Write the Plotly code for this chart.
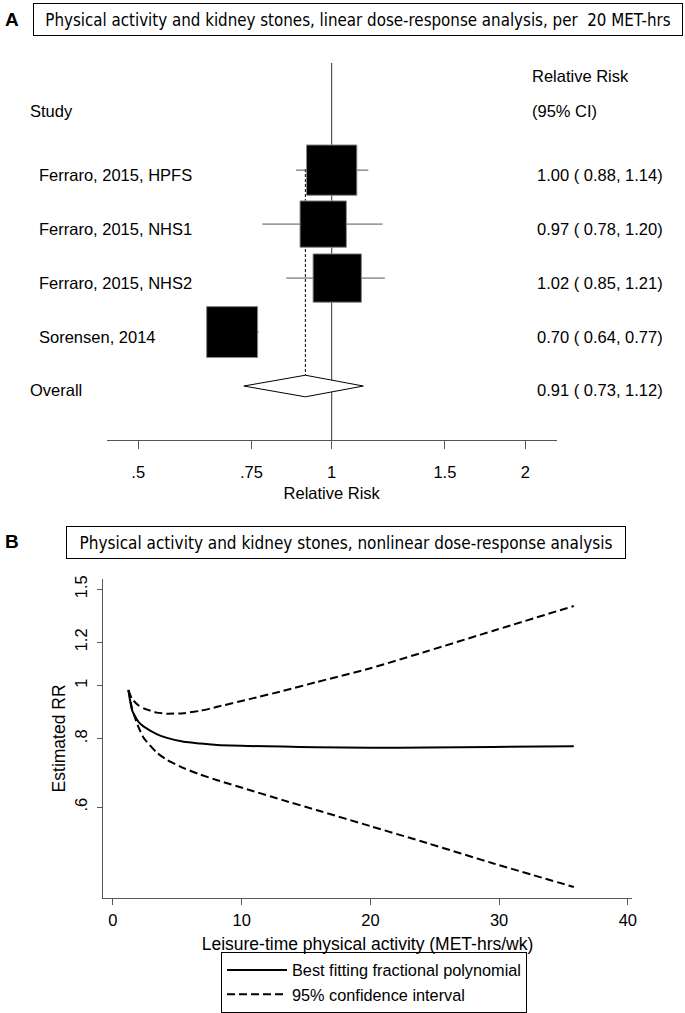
import plotly.graph_objects as go

# ---------------- Panel A data (linear dose-response, per 20 MET-hrs) ----------------
studies = ["Ferraro, 2015, HPFS", "Ferraro, 2015, NHS1", "Ferraro, 2015, NHS2", "Sorensen, 2014"]
rr = [1.00, 0.97, 1.02, 0.70]
rr_lo = [0.88, 0.78, 0.85, 0.64]
rr_hi = [1.14, 1.20, 1.21, 0.77]
weights = [26.3, 22.4, 24.3, 27.0]
overall_label = "Overall"
overall_rr = 0.91
overall_lo = 0.73
overall_hi = 1.12
forest_ticks = [0.5, 0.75, 1, 1.5, 2]
forest_ticktext = [".5", ".75", "1", "1.5", "2"]

# ---------------- Panel B data (nonlinear dose-response) ----------------
met = [1.2, 1.5, 2.0, 2.4, 3.4, 4.2, 5.5, 6.8, 8.1, 10.6, 13.2, 15.8, 20.0, 24.4, 29.5, 35.8]
best_fit = [0.982, 0.900, 0.858, 0.842, 0.816, 0.803, 0.790, 0.784, 0.779, 0.776, 0.774, 0.772, 0.770, 0.771, 0.773, 0.775]
ci_upper = [0.982, 0.945, 0.920, 0.909, 0.893, 0.889, 0.891, 0.900, 0.915, 0.945, 0.978, 1.015, 1.076, 1.156, 1.259, 1.398]
ci_lower = [0.982, 0.905, 0.838, 0.802, 0.755, 0.732, 0.707, 0.688, 0.672, 0.645, 0.618, 0.593, 0.554, 0.516, 0.474, 0.429]
b_xticks = [0, 10, 20, 30, 40]
b_yticks = [0.6, 0.8, 1, 1.2, 1.5]
b_yticktext = [".6", ".8", "1", "1.2", "1.5"]

W, H = 685, 1013
ARIAL = "Liberation Sans, Arial, Helvetica, sans-serif"
TITLEFONT = "DejaVu Sans Condensed, Liberation Sans Narrow, DejaVu Sans, sans-serif"
AXC = "#555555"


def px(x):
    return x / W


def py(y):
    return 1 - y / H


rows = list(range(1, len(studies) + 1))
overall_row = len(studies) + 1

fig = go.Figure()

# vertical line of no effect
fig.add_trace(go.Scatter(x=[1, 1], y=[-0.99, 6.0], mode="lines", line=dict(color="#333333", width=1),
                         showlegend=False, hoverinfo="skip", xaxis="x", yaxis="y"))
# dashed line at overall estimate
fig.add_trace(go.Scatter(x=[overall_rr, overall_rr], y=[0.98, overall_row], mode="lines",
                         line=dict(color="black", width=1, dash="3px,2px"),
                         showlegend=False, hoverinfo="skip", xaxis="x", yaxis="y"))
# confidence intervals
ci_x, ci_y = [], []
for r, lo, hi in zip(rows, rr_lo, rr_hi):
    ci_x += [lo, hi, None]
    ci_y += [r, r, None]
fig.add_trace(go.Scatter(x=ci_x, y=ci_y, mode="lines", line=dict(color="#555555", width=1),
                         showlegend=False, hoverinfo="skip", xaxis="x", yaxis="y"))
# study squares (area proportional to weight)
fig.add_trace(go.Scatter(x=rr, y=rows, mode="markers",
                         marker=dict(symbol="square", color="black", opacity=1,
                                     size=[10 * w ** 0.5 - 1 for w in weights],
                                     line=dict(color="#888888", width=1)),
                         showlegend=False, xaxis="x", yaxis="y"))
# overall diamond
dh = 0.2
fig.add_trace(go.Scatter(x=[overall_lo, overall_rr, overall_hi, overall_rr, overall_lo],
                         y=[overall_row, overall_row - dh, overall_row, overall_row + dh, overall_row],
                         mode="lines", line=dict(color="black", width=1), fill="toself",
                         fillcolor="white", showlegend=False, hoverinfo="skip", xaxis="x", yaxis="y"))

# ---------------- Panel B traces ----------------
fig.add_trace(go.Scatter(x=met, y=best_fit, mode="lines", name="Best fitting fractional polynomial",
                         line=dict(color="black", width=2, shape="spline", smoothing=0.5),
                         xaxis="x2", yaxis="y2"))
fig.add_trace(go.Scatter(x=met, y=ci_upper, mode="lines", name="95% confidence interval",
                         legendgroup="ci",
                         line=dict(color="black", width=2, dash="8px,4px", shape="spline", smoothing=0.5),
                         xaxis="x2", yaxis="y2"))
fig.add_trace(go.Scatter(x=met, y=ci_lower, mode="lines", name="95% confidence interval",
                         legendgroup="ci", showlegend=False,
                         line=dict(color="black", width=2, dash="8px,4px", shape="spline", smoothing=0.5),
                         xaxis="x2", yaxis="y2"))

annotations = []
TXT = dict(family=ARIAL, size=16.5, color="black")


def ann(text, x, y, xanchor="center", yanchor="middle", xref="paper", yref="paper", **kw):
    d = dict(text=text, x=x, y=y, xref=xref, yref=yref, xanchor=xanchor, yanchor=yanchor, showarrow=False)
    d.update(kw)
    annotations.append(d)


# panel letters
ann("<b>A</b>", px(12), py(19), font=dict(family=ARIAL, size=19, color="black"))
ann("<b>B</b>", px(12), py(541), font=dict(family=ARIAL, size=19, color="black"))
# boxed titles
ann("Physical activity and kidney stones, linear dose-response analysis, per&nbsp;&nbsp;20 MET-hrs",
    px((33 + 683) / 2), py(19.5), width=648, height=31, borderpad=0, bordercolor="black", borderwidth=1,
    font=dict(family=TITLEFONT, size=16.8, color="black"))
ann("Physical activity and kidney stones, nonlinear dose-response analysis",
    px((66 + 626) / 2), py(542), width=558, height=31, borderpad=0, bordercolor="black", borderwidth=1,
    font=dict(family=TITLEFONT, size=17, color="black"))
# forest headers
ann("Study", px(28), py(111), xanchor="left", font=TXT)
ann("Relative Risk", px(530), py(76), xanchor="left", font=TXT)
ann("(95% CI)", px(530), py(111), xanchor="left", font=TXT)
for r, name, e, lo, hi in zip(rows, studies, rr, rr_lo, rr_hi):
    ann(name, px(37), r, xanchor="left", yref="y", yshift=-5, font=TXT)
    ann(f"{e:.2f} ( {lo:.2f}, {hi:.2f})", px(535), r, xanchor="left", yref="y", yshift=-5, font=TXT)
ann(overall_label, px(28), overall_row, xanchor="left", yref="y", yshift=-4, font=TXT)
ann(f"{overall_rr:.2f} ( {overall_lo:.2f}, {overall_hi:.2f})", px(535), overall_row, xanchor="left",
    yref="y", yshift=-4, font=TXT)

a_dom = [px(106.7), px(556.7)]
a_range = [-0.35, 0.35]

fig.update_layout(
    width=W, height=H,
    margin=dict(l=0, r=0, t=0, b=0, autoexpand=False),
    paper_bgcolor="white", plot_bgcolor="white",
    font=dict(family=ARIAL, color="black"),
    annotations=annotations,
    xaxis=dict(type="log", range=a_range, domain=a_dom, anchor="y", automargin=False,
               showline=True, linecolor=AXC, linewidth=1, showgrid=False, zeroline=False,
               ticks="outside", ticklen=8, tickcolor=AXC, tickwidth=1,
               tickvals=forest_ticks, ticktext=forest_ticktext,
               tickfont=dict(family=ARIAL, size=16.5, color="black"), ticklabelstandoff=9,
               title=dict(text="Relative Risk", font=dict(family=ARIAL, size=16.5, color="black"), standoff=7)),
    xaxis3=dict(type="log", range=a_range, domain=a_dom, anchor="y", overlaying="x", automargin=False,
                showline=False, showgrid=False, zeroline=False, ticks="outside", ticklen=21,
                tickcolor="#333333", tickwidth=1, tickvals=[1], showticklabels=False),
    yaxis=dict(range=[6.0, -0.99], domain=[py(440), py(62.7)], visible=False, anchor="x", automargin=False),
    xaxis2=dict(range=[-0.75, 40.3], domain=[px(103.3), px(631.7)], anchor="y2", automargin=False,
                showline=True, linecolor=AXC, linewidth=1, showgrid=False, zeroline=False,
                ticks="outside", ticklen=6, tickcolor=AXC, tickvals=b_xticks,
                tickfont=dict(family=ARIAL, size=16.5, color="black"), ticklabelstandoff=2,
                title=dict(text="Leisure-time physical activity (MET-hrs/wk)",
                           font=dict(family=ARIAL, size=17.5, color="black"), standoff=9)),
    yaxis2=dict(type="log", range=[-0.3868, 0.1943], domain=[py(897.5), py(579.3)], anchor="x2",
                automargin=False,
                showline=True, linecolor=AXC, linewidth=1, showgrid=False, zeroline=False,
                ticks="outside", ticklen=5, tickcolor=AXC, tickvals=b_yticks, ticktext=b_yticktext,
                tickangle=-90, tickfont=dict(family=ARIAL, size=16.5, color="black"), ticklabelstandoff=4,
                title=dict(text="Estimated RR", font=dict(family=ARIAL, size=17.5, color="black"), standoff=1)),
    showlegend=True,
    legend=dict(x=px(221), y=py(952), xanchor="left", yanchor="top",
                bordercolor="black", borderwidth=1, bgcolor="white",
                font=dict(family=ARIAL, size=16.3, color="black"), itemwidth=60, tracegroupgap=0),
)

fig.write_html("out.html", config={"displayModeBar": False},
               post_script="document.body.style.margin='0';document.body.style.overflow='hidden';")
